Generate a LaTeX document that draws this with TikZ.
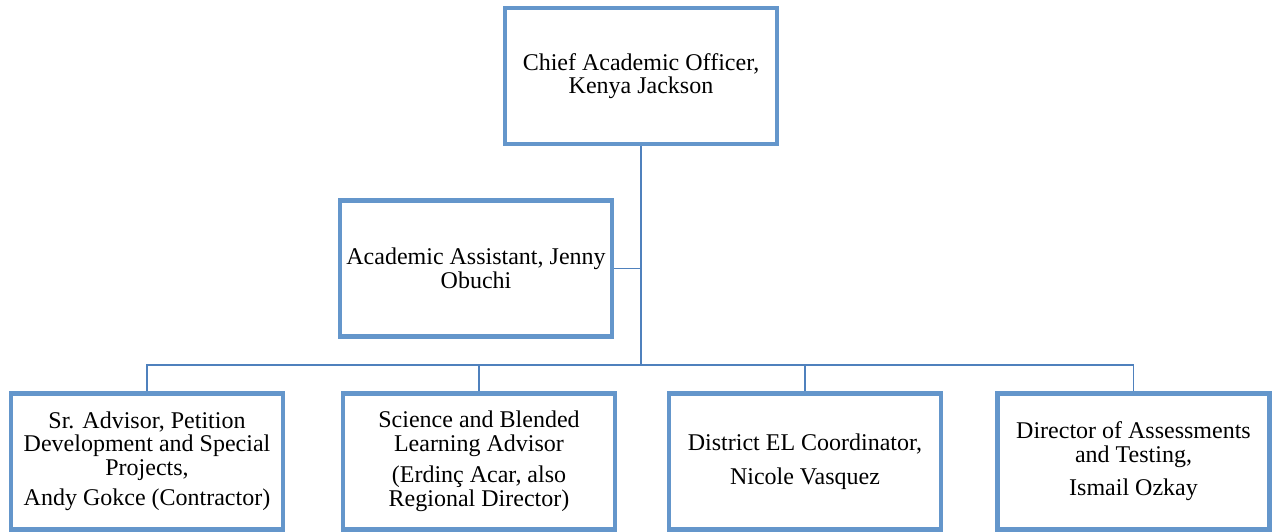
\documentclass[tikz,border=0pt]{standalone}
\usepackage{fontspec}
\setmainfont{Liberation Serif}
\usepackage{tikz}
\usetikzlibrary{calc}

\definecolor{boxblue}{RGB}{100,150,203}
\definecolor{lineblue}{RGB}{79,129,189}

\begin{document}
\begin{tikzpicture}[x=1pt, y=1pt,
        person/.style={draw=boxblue, line width=4.5pt, fill=white, minimum width=272pt,
            minimum height=136pt, align=center, inner sep=2pt,
            font=\fontsize{24}{23.5}\selectfont},
        link/.style={draw=lineblue, line width=1.6pt}]
        \useasboundingbox (0, 0) rectangle (1272, 531);

        \draw (641, 455) node[person] (cao) {Chief Academic Officer,\\Kenya Jackson};
        \draw (476, 262.5) node[person] (asst) {Academic Assistant, Jenny\\Obuchi};

        \draw (147, 69.5) node[person] (adv) {Sr. Advisor, Petition\\Development and Special\\Projects,\\[7pt]Andy Gokce (Contractor)};
        \draw (479, 69.5) node[person] (sci) {Science and Blended\\Learning Advisor\\[8pt](Erdinç Acar, also\\Regional Director)};
        \draw (805, 69.5) node[person] (el) {District EL Coordinator,\\[10pt]Nicole Vasquez};
        \draw (1133.5, 69.5) node[person] (dir) {Director of Assessments\\and Testing,\\[10pt]Ismail Ozkay};

        \coordinate (bus) at (641, 166);

        \draw[link] (cao) -- (bus);
        \draw[link] (asst.east) -- (asst.east -| cao.south);
        \draw[link] (adv.north) -- (adv.north |- bus) -- (dir.north |- bus) -- (dir.north);
        \draw[link] (sci.north) -- (sci.north |- bus);
        \draw[link] (el.north) -- (el.north |- bus);
    \end{tikzpicture}
\end{document}
